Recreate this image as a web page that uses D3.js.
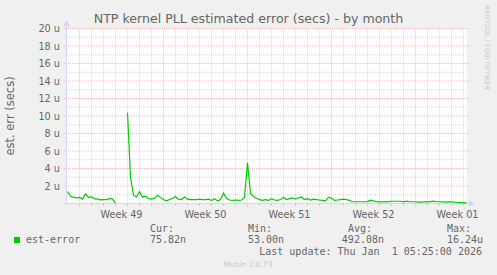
<!DOCTYPE html>
<html>
<head>
<meta charset="utf-8">
<script src="https://cdn.jsdelivr.net/npm/d3@7"></script>
<style>
body { margin: 0; background: #f0f0f0; }
svg { display: block; }
</style>
</head>
<body>
<div id="graph"></div>
<script>
// time base of the month graph (one sample every 6 hours)
var startTime = Date.UTC(2025, 10, 30, 0, 0);
var stepHours = 6;
var spanHours = 800;

// est-error in microseconds, null = no data
var estError = [
	1.37, 0.85, 0.72, 0.65, 0.70, 0.50, 1.10, 0.70, 0.75, 0.55,
	0.50, 0.42, 0.45, 0.45, 0.58, 0.50, 0.05, null, null, null,
	10.37, 3.0, 0.95, 0.75, 1.34, 0.75, 0.85, 0.55, 0.50, 0.60,
	0.95, 0.70, 0.45, 0.30, 0.45, 0.60, 0.80, 0.50, 0.45, 0.75,
	0.50, 0.45, 0.45, 0.45, 0.50, 0.45, 0.45, 0.50, 0.35, 0.55,
	0.30, 0.45, 1.20, 0.60, 0.40, 0.35, 0.40, 0.35, 0.40, 0.70,
	4.65, 1.15, 0.80, 0.60, 0.45, 0.35, 0.45, 0.35, 0.55, 0.40,
	0.35, 0.45, 0.72, 0.45, 0.55, 0.65, 0.50, 0.65, 0.75, 0.45,
	0.55, 0.40, 0.50, 0.45, 0.40, 0.35, 0.30, 0.72, 0.60, 0.35,
	0.40, 0.45, 0.50, 0.45, 0.35, 0.20, 0.20, 0.20, 0.20, 0.20,
	0.22, 0.38, 0.30, 0.20, 0.18, 0.18, 0.18, 0.22, 0.26, 0.26,
	0.26, 0.26, 0.18, 0.26, 0.20, 0.20, 0.20, 0.15, 0.15, 0.20,
	0.18, 0.22, 0.26, 0.20, 0.20, 0.18, 0.15, 0.18, 0.20, 0.15,
	0.12, 0.10, 0.10, 0.08
];

var yTicks = [2, 4, 6, 8, 10, 12, 14, 16, 18, 20];
var legendHeads = ["Cur:", "Min:", "Avg:", "Max:"];
var legendValues = ["75.82n", "53.00n", "492.08n", "16.24u"];

var width = 497, height = 275;
var axisColour = "#cfd6f8";
var fontColour = "#666666";
var lineColour = "#00cc00";
var minorColour = "rgba(128,128,128,0.3)";
var majorColour = "rgba(210,110,110,0.45)";

var svg = d3.select("#graph").append("svg")
	.attr("width", width)
	.attr("height", height);

svg.append("rect").attr("width", width).attr("height", height).attr("fill", "#f0f0f0");

var hour = 3600 * 1000;
var xScale = d3.scaleUtc()
	.domain([new Date(startTime), new Date(startTime + spanHours * hour)])
	.range([67.5, 467.5]);

var yScale = d3.scaleLinear()
	.domain([0, 20])
	.range([203.5, 28.5]);

// canvas
svg.append("rect")
	.attr("x", 67).attr("y", 28)
	.attr("width", 400).attr("height", 176)
	.attr("fill", "#ffffff");

var grid = svg.append("g");

// minor grid, every day / every 1u
var days = d3.utcDay.range(xScale.domain()[0], xScale.domain()[1]).filter(function(d){
	return d3.utcMonday.floor(d).getTime() != d.getTime() && d > xScale.domain()[0];
});
grid.selectAll(".vmin").data(days).enter().append("line")
	.attr("x1", function(d){ return xScale(d); })
	.attr("x2", function(d){ return xScale(d); })
	.attr("y1", yScale(0)).attr("y2", yScale(20))
	.attr("stroke", minorColour)
	.attr("stroke-dasharray", "1,1");

var minorY = d3.range(1, 21, 2);
grid.selectAll(".hmin").data(minorY).enter().append("line")
	.attr("x1", 67).attr("x2", 467)
	.attr("y1", function(d){ return yScale(d); })
	.attr("y2", function(d){ return yScale(d); })
	.attr("stroke", minorColour)
	.attr("stroke-dasharray", "1,1");

// major grid, mondays / every 2u
var weeks = d3.utcMonday.range(xScale.domain()[0], xScale.domain()[1]);
grid.selectAll(".vmaj").data(weeks).enter().append("line")
	.attr("x1", function(d){ return xScale(d); })
	.attr("x2", function(d){ return xScale(d); })
	.attr("y1", yScale(0) + 3).attr("y2", yScale(20))
	.attr("stroke", majorColour)
	.attr("stroke-dasharray", "1,1");

grid.selectAll(".hmaj").data(yTicks).enter().append("line")
	.attr("x1", 64).attr("x2", 470)
	.attr("y1", function(d){ return yScale(d); })
	.attr("y2", function(d){ return yScale(d); })
	.attr("stroke", majorColour)
	.attr("stroke-dasharray", "1,1");

// small ticks below the x axis for days
grid.selectAll(".dtick").data(days).enter().append("line")
	.attr("x1", function(d){ return xScale(d); })
	.attr("x2", function(d){ return xScale(d); })
	.attr("y1", yScale(0)).attr("y2", yScale(0) + 2)
	.attr("stroke", "rgba(128,128,128,0.45)");

// y tick labels
svg.append("g").selectAll("text").data(yTicks).enter().append("text")
	.attr("x", 60)
	.attr("y", function(d){ return yScale(d) + 3.5; })
	.attr("text-anchor", "end")
	.attr("font-family", "DejaVu Sans")
	.attr("font-size", "9.7px")
	.attr("fill", fontColour)
	.text(function(d){ return d + " u"; });

// week labels, centered on the middle of each week
var weekFormat = d3.utcFormat("Week %V");
var labelWeeks = weeks.filter(function(d){
	return xScale(new Date(d.getTime() + 84 * hour)) < 467;
});
svg.append("g").selectAll("text").data(labelWeeks).enter().append("text")
	.attr("x", function(d){ return xScale(new Date(d.getTime() + 84 * hour)); })
	.attr("y", 218)
	.attr("text-anchor", "middle")
	.attr("font-family", "DejaVu Sans")
	.attr("font-size", "9.7px")
	.attr("fill", fontColour)
	.text(function(d){ return weekFormat(d); });

// axes with arrows
svg.append("line")
	.attr("x1", 66.5).attr("x2", 66.5)
	.attr("y1", 204).attr("y2", 24)
	.attr("stroke", axisColour);
svg.append("line")
	.attr("x1", 63).attr("x2", 470)
	.attr("y1", 203.5).attr("y2", 203.5)
	.attr("stroke", axisColour);
svg.append("path")
	.attr("d", "M63.5,26 L66.5,20 L69.5,26 Z")
	.attr("fill", axisColour);
svg.append("path")
	.attr("d", "M469,200.5 L475,203.5 L469,206.5 Z")
	.attr("fill", axisColour);

// the series
var points = estError.map(function(v, i){
	return { t: new Date(startTime + i * stepHours * hour), v: v };
});
var line = d3.line()
	.defined(function(d){ return d.v !== null; })
	.x(function(d){ return xScale(d.t); })
	.y(function(d){ return yScale(d.v); });

svg.append("path")
	.datum(points)
	.attr("d", line)
	.attr("fill", "none")
	.attr("stroke", lineColour)
	.attr("stroke-width", 1.2);

// title and vertical label
svg.append("text")
	.attr("x", 248.5).attr("y", 23)
	.attr("text-anchor", "middle")
	.attr("font-family", "DejaVu Sans")
	.attr("font-size", "12.6px")
	.attr("fill", fontColour)
	.text("NTP kernel PLL estimated error (secs) - by month");

svg.append("text")
	.attr("transform", "translate(14,116) rotate(-90)")
	.attr("text-anchor", "middle")
	.attr("font-family", "DejaVu Sans")
	.attr("font-size", "11.5px")
	.attr("fill", fontColour)
	.text("est. err (secs)");

svg.append("text")
	.attr("transform", "translate(484.5,5) rotate(90)")
	.attr("font-family", "DejaVu Sans")
	.attr("font-size", "6.6px")
	.attr("fill", "#c8c8c8")
	.text("RRDTOOL / TOBI OETIKER");

// legend
var mono = "DejaVu Sans Mono";
svg.append("rect")
	.attr("x", 14).attr("y", 237)
	.attr("width", 6).attr("height", 6)
	.attr("fill", lineColour);
svg.append("text")
	.attr("x", 26).attr("y", 243)
	.attr("font-family", mono).attr("font-size", "10px")
	.attr("fill", fontColour)
	.text("est-error");

var headX = [150, 248, 348, 447];
var valueEnd = [186, 284, 384, 483];
svg.append("g").selectAll("text").data(legendHeads).enter().append("text")
	.attr("x", function(d, i){ return headX[i]; })
	.attr("y", 232)
	.attr("font-family", mono).attr("font-size", "10px")
	.attr("fill", fontColour)
	.text(function(d){ return d; });
svg.append("g").selectAll("text").data(legendValues).enter().append("text")
	.attr("x", function(d, i){ return valueEnd[i]; })
	.attr("y", 243)
	.attr("text-anchor", "end")
	.attr("font-family", mono).attr("font-size", "10px")
	.attr("fill", fontColour)
	.text(function(d){ return d; });

svg.append("text")
	.attr("x", 482).attr("y", 254.5)
	.attr("text-anchor", "end")
	.attr("font-family", mono).attr("font-size", "10px")
	.attr("fill", fontColour)
	.attr("xml:space", "preserve")
	.style("white-space", "pre")
	.text("Last update: Thu Jan  1 05:25:00 2026");

svg.append("text")
	.attr("x", 248).attr("y", 267)
	.attr("text-anchor", "middle")
	.attr("font-family", "DejaVu Sans")
	.attr("font-size", "7.5px")
	.attr("fill", "#c8c8c8")
	.text("Munin 2.0.73");
</script>
</body>
</html>
